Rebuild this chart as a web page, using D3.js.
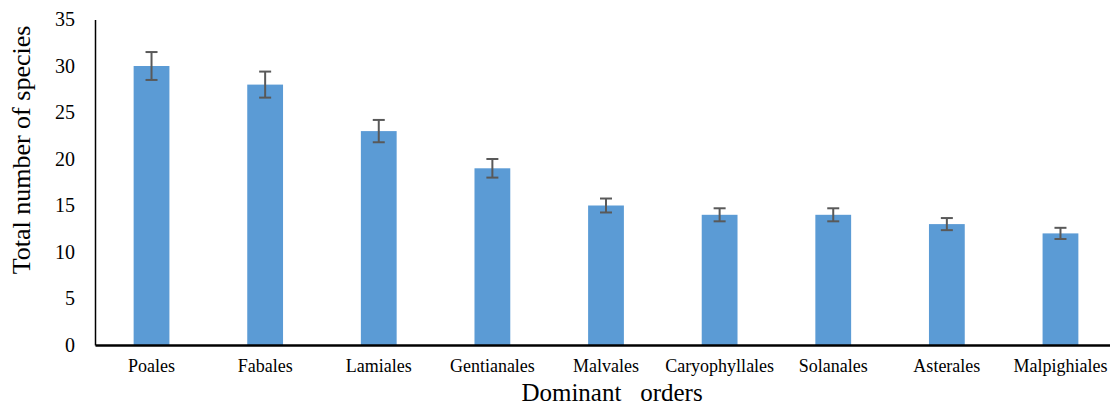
<!DOCTYPE html>
<html><head><meta charset="utf-8">
<script src="https://cdn.jsdelivr.net/npm/d3@7/dist/d3.min.js"></script>
<style>body{margin:0;background:#fff}svg{display:block}text{font-family:"Liberation Serif","Times New Roman",serif;fill:#000}</style>
</head><body><svg id="c" width="1110" height="408"></svg>
<script>
const categories = ["Poales","Fabales","Lamiales","Gentianales","Malvales","Caryophyllales","Solanales","Asterales","Malpighiales"];
const values = [30,28,23,19,15,14,14,13,12];
const errors = [1.5,1.4,1.2,1.0,0.75,0.7,0.7,0.65,0.6];
const yTicks = [0,5,10,15,20,25,30,35];

(function(){
const svg = d3.select("#c");
const FF = '"Liberation Serif","Times New Roman",serif';
const mLeft = 95, mBottom = 345, mTop = 19.5, mRight = 1117;
const x = d3.scaleBand().domain(categories).range([mLeft, mRight]).paddingInner(0.685).paddingOuter(0.34);
const y = d3.scaleLinear().domain([0,35]).range([mBottom, mTop]);

svg.append("g").selectAll("rect").data(categories).join("rect")
  .attr("x", d => x(d)).attr("width", x.bandwidth())
  .attr("y", (d,i) => y(values[i])).attr("height", (d,i) => y(0) - y(values[i]))
  .attr("fill", "#5b9bd5");

const eg = svg.append("g").attr("stroke", "#595959").attr("stroke-width", 2);
categories.forEach((c,i) => {
  const cx = x(c) + x.bandwidth()/2;
  const y1 = y(values[i] + errors[i]), y2 = y(values[i] - errors[i]);
  eg.append("line").attr("x1", cx).attr("x2", cx).attr("y1", y1).attr("y2", y2);
  eg.append("line").attr("x1", cx-6).attr("x2", cx+6).attr("y1", y1).attr("y2", y1);
  eg.append("line").attr("x1", cx-6).attr("x2", cx+6).attr("y1", y2).attr("y2", y2);
});

const ya = svg.append("g").attr("transform", `translate(${mLeft},0)`)
  .call(d3.axisLeft(y).tickValues(yTicks).tickSize(0).tickPadding(20));
ya.attr("font-family", null);
ya.select(".domain").attr("stroke", "#000").attr("stroke-width", 1.5);
ya.selectAll("text").style("font-size", "20px").style("font-family", FF);

const xa = svg.append("g").attr("transform", `translate(0,${mBottom})`)
  .call(d3.axisBottom(x).tickSize(0).tickPadding(14));
xa.attr("font-family", null);
xa.select(".domain").attr("stroke", "#000").attr("stroke-width", 2.5);
xa.selectAll("text").style("font-size", "18px").style("font-family", FF);

svg.append("text").attr("transform", "translate(30,150) rotate(-90)")
  .attr("text-anchor", "middle").style("font-size", "26px").style("font-family", FF).text("Total number of species");
svg.append("text").attr("x", 612).attr("y", 401).attr("text-anchor", "middle")
  .style("font-size", "25px").style("font-family", FF).style("white-space", "pre").text("Dominant   orders");
})();
</script></body></html>
